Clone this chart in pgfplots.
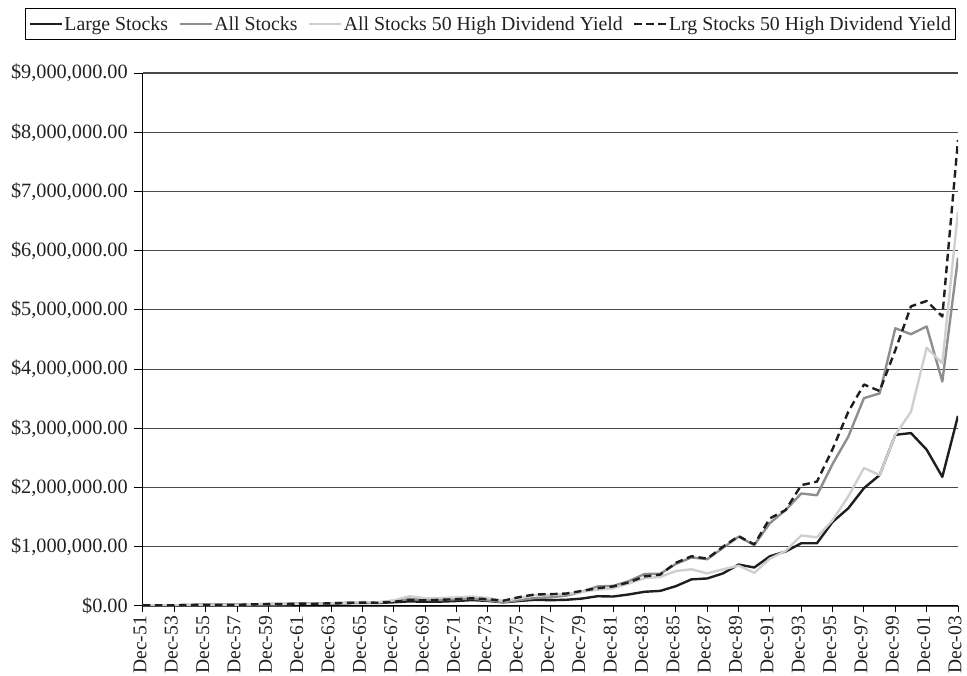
\documentclass[border=0pt]{standalone}
\usepackage{pgfplots}
\usepackage{pgfplotstable}
\pgfplotsset{compat=1.18}
\usepackage{fontspec}
\setmainfont{Liberation Serif}
\definecolor{txt}{HTML}{222222}
\definecolor{ls}{HTML}{1E1E1E}
\definecolor{as}{HTML}{8E8E8E}
\definecolor{ahy}{HTML}{CFCFCF}
\definecolor{grd}{HTML}{4A4A4A}

\pgfplotstableread{
yr LS AS AHY LHY
0 10000 10000 10000 10000
1 11000 10800 11200 11300
2 11200 10700 11500 11400
3 16500 16500 17500 17000
4 20000 20000 21000 20500
5 21000 21500 22000 21500
6 19000 18500 19500 19000
7 27500 29000 29000 28000
8 30500 33000 32000 31000
9 31000 32500 33500 32500
10 38000 42000 41000 40000
11 35000 37000 39000 38000
12 42000 45000 48000 46000
13 48000 53000 56000 53000
14 54000 65000 64000 58000
15 51000 61000 60000 55000
16 63000 88000 95000 72000
17 78000 125000 165000 100000
18 71000 105000 130000 95000
19 74000 100000 135000 105000
20 84000 115000 145000 115000
21 100000 125000 160000 130000
22 85000 95000 135000 115000
23 62000 65000 85000 90000
24 85000 100000 130000 150000
25 105000 135000 185000 195000
26 98000 145000 190000 200000
27 105000 175000 200000 210000
28 125000 240000 240000 255000
29 165000 330000 275000 300000
30 160000 340000 300000 330000
31 195000 420000 380000 400000
32 240000 540000 470000 500000
33 255000 545000 490000 530000
34 335000 710000 590000 730000
35 450000 820000 620000 840000
36 465000 790000 550000 800000
37 550000 980000 620000 1000000
38 700000 1170000 680000 1180000
39 650000 1030000 560000 1040000
40 840000 1400000 800000 1480000
41 920000 1620000 930000 1620000
42 1060000 1900000 1190000 2040000
43 1060000 1870000 1160000 2100000
44 1420000 2400000 1450000 2650000
45 1650000 2860000 1850000 3280000
46 1990000 3510000 2330000 3740000
47 2210000 3590000 2210000 3630000
48 2890000 4690000 2890000 4320000
49 2920000 4590000 3280000 5060000
50 2640000 4720000 4360000 5150000
51 2180000 3790000 4100000 4890000
52 3210000 5880000 6660000 7870000
}\data

\begin{document}
\begin{tikzpicture}
\useasboundingbox (-143pt,-70pt) rectangle (824pt,606pt);
\begin{axis}[
  width=815pt, height=533pt, scale only axis,
  xmin=0, xmax=52, ymin=0, ymax=9000000,
  axis x line*=bottom, axis y line*=left,
  axis line style={black, line width=1pt},
  ymajorgrids, grid style={draw=grd, line width=1.2pt},
  xtick={0,2,...,52},
  xticklabels={Dec-51,Dec-53,Dec-55,Dec-57,Dec-59,Dec-61,Dec-63,Dec-65,Dec-67,Dec-69,Dec-71,Dec-73,Dec-75,Dec-77,Dec-79,Dec-81,Dec-83,Dec-85,Dec-87,Dec-89,Dec-91,Dec-93,Dec-95,Dec-97,Dec-99,Dec-01,Dec-03},
  ytick={0,1000000,2000000,3000000,4000000,5000000,6000000,7000000,8000000,9000000},
  yticklabels={\$0.00,\$1{,}000{,}000.00,\$2{,}000{,}000.00,\$3{,}000{,}000.00,\$4{,}000{,}000.00,\$5{,}000{,}000.00,\$6{,}000{,}000.00,\$7{,}000{,}000.00,\$8{,}000{,}000.00,\$9{,}000{,}000.00},
  scaled y ticks=false,
  tick align=outside, major tick length=9pt,
  xtick style={/pgfplots/major tick length=6pt},
  tick style={black, line width=1pt},
  tick label style={text=txt},
  xticklabel style={font=\fontsize{19.5}{21}\selectfont, rotate=90, anchor=east, inner xsep=1pt, inner ysep=0.5pt, text height=0.68em, text depth=0pt},
  yticklabel style={font=\fontsize{20.3}{22}\selectfont, inner sep=6pt},
  legend columns=4,
  legend style={at={(0.9975,1.122)}, anchor=north east, draw=black, line width=1.1pt,
    font=\fontsize{19.8}{21}\selectfont, text=txt, inner xsep=3pt, inner ysep=6pt,
    /tikz/every even column/.append style={column sep=9pt},
    nodes={inner xsep=1.5pt}},
  legend image code/.code={\draw[#1] (0pt,0pt) -- (32pt,0pt);},
  every axis plot/.append style={line width=2.4pt, line join=round},
]
\addplot[ls] table[x=yr,y=LS]{\data};
\addlegendentry{Large Stocks}
\addplot[as] table[x=yr,y=AS]{\data};
\addlegendentry{All Stocks}
\addplot[ahy] table[x=yr,y=AHY]{\data};
\addlegendentry{All Stocks 50 High Dividend Yield}
\addplot[ls, dash pattern=on 7.5pt off 4.5pt] table[x=yr,y=LHY]{\data};
\addlegendentry{Lrg Stocks 50 High Dividend Yield}
\end{axis}
\end{tikzpicture}
\end{document}
